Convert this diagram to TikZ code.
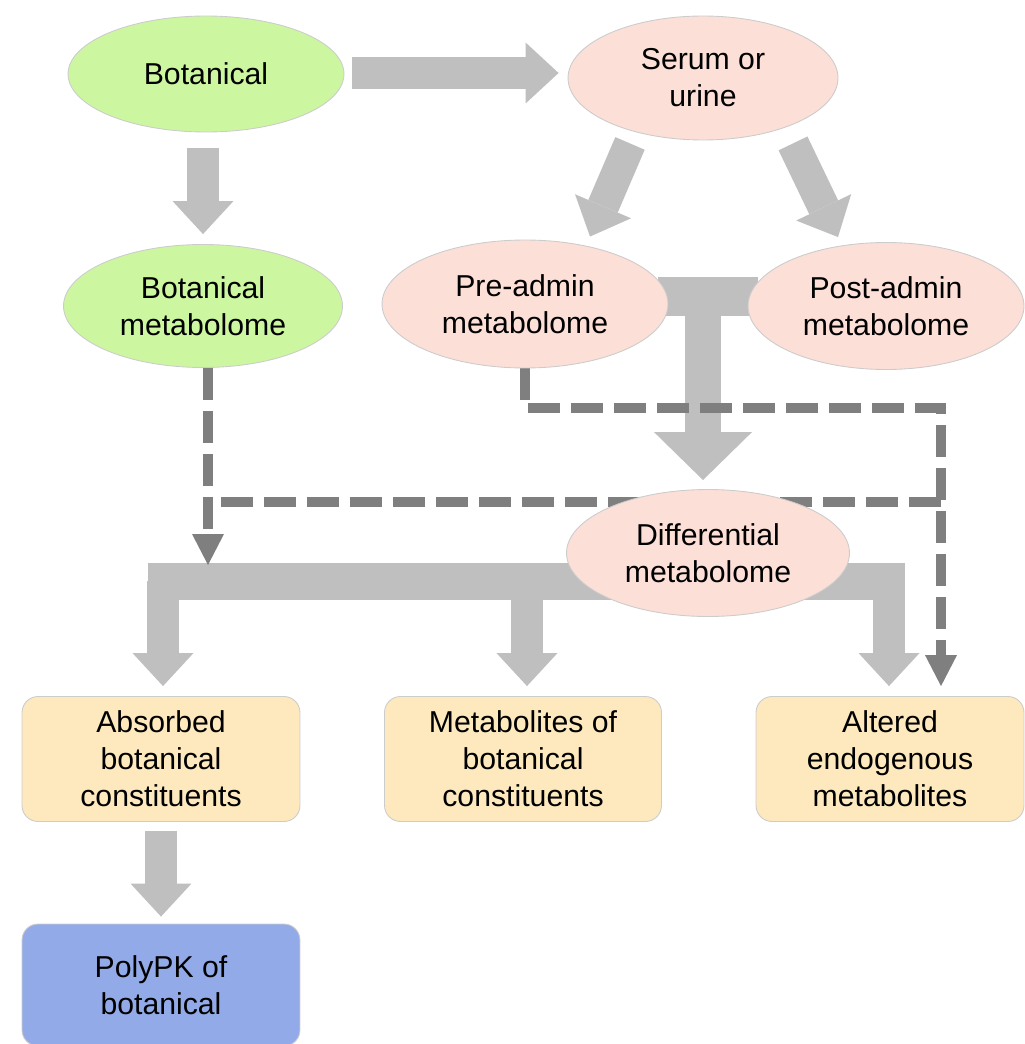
\documentclass[tikz,border=0pt]{standalone}
\usepackage{fontspec}
\setmainfont{Liberation Sans}
\usetikzlibrary{calc, positioning, shapes.geometric, arrows.meta, backgrounds}

\definecolor{botgreen}{HTML}{CCF7A0}
\definecolor{serumpink}{HTML}{FCDFD7}
\definecolor{outyellow}{HTML}{FDE9BD}
\definecolor{pkblue}{HTML}{93AAE8}
\definecolor{arrowgray}{HTML}{BFBFBF}
\definecolor{dashgray}{HTML}{7F7F7F}

\begin{document}
\begin{tikzpicture}[x=0.02cm, y=-0.02cm,
    every node/.style={font=\fontsize{17.2}{21}\selectfont, align=center, inner sep=0pt},
    blob/.style={ellipse, draw=black!20, line width=0.5pt},
    outbox/.style={rectangle, rounded corners=0.32cm, draw=black!20, line width=0.5pt,
        fill=outyellow, minimum width=5.56cm, minimum height=2.5cm},
    fat/.style={draw=arrowgray, line width=0.64cm,
        -{Triangle[width=1.22cm, length=0.66cm, line width=0pt]}},
    fatbig/.style={draw=arrowgray, line width=0.72cm,
        -{Triangle[width=1.96cm, length=0.96cm, line width=0pt]}},
    dashline/.style={draw=dashgray, line width=0.2cm, dash pattern=on 0.64cm off 0.22cm},
    dashtip/.style={-{Triangle[width=0.64cm, length=0.62cm, line width=0pt]}}]

    \useasboundingbox (0,0) rectangle (1024,1044);

    % Sample nodes
    \node[blob, fill=botgreen, minimum width=5.52cm, minimum height=2.32cm] (bot) at (206,74) {Botanical};
    \node[blob, fill=serumpink, minimum width=5.4cm, minimum height=2.48cm] (serum) at (703,78) {Serum or\\urine};

    % Metabolomes
    \node[blob, fill=botgreen, minimum width=5.58cm, minimum height=2.46cm] (botmet) at (203,306) {Botanical\\metabolome};
    \node[blob, fill=serumpink, minimum width=5.72cm, minimum height=2.56cm] (pre) at (525,304) {Pre-admin\\metabolome};
    \node[blob, fill=serumpink, minimum width=5.52cm, minimum height=2.54cm] (post) at (886,306) {Post-admin\\metabolome};
    \node[blob, fill=serumpink, minimum width=5.66cm, minimum height=2.54cm] (diff) at (708,553) {Differential\\metabolome};

    % Outcomes
    \node[outbox] (absorbed) at (161,759) {Absorbed\\botanical\\constituents};
    \node[outbox, minimum width=5.54cm] (metab) at (523,759) {Metabolites of\\botanical\\constituents};
    \node[outbox, minimum width=5.36cm] (altered) at (890,759) {Altered\\endogenous\\metabolites};
    \node[outbox, fill=pkblue, minimum height=2.44cm] (polypk) at (161,985) {PolyPK of\\botanical};

    \begin{pgfonlayer}{background}
        % Block arrows
        \draw[fat] ($(bot.east)+(8,-1)$) -- ($(bot.east -| serum.west)+(-9,-1)$);
        \draw[fat] ($(bot.south)+(-3,16)$) -- ($(botmet.north)+(0,-10)$);
        \draw[fat] ($(serum.south)+(-73,3)$) -- ($(pre.north)+(65,-3)$);
        \draw[fat] ($(serum.south)+(90,3)$) -- ($(post.north)+(-48,-5)$);

        % Upper bracket
        \fill[arrowgray] ($(pre.east)+(-10,-27)$) rectangle ($(post.west)+(10,10)$);
        \draw[fatbig] ($(diff.north)+(-5,-190)$) -- ($(diff.north)+(-5,-9)$);

        % Lower bracket
        \fill[arrowgray] (148,563) rectangle (905,600);
        \draw[fat] ($(absorbed.north)+(2,-115)$) -- ($(absorbed.north)+(2,-10)$);
        \draw[fat] ($(metab.north)+(4,-115)$) -- ($(metab.north)+(4,-10)$);
        \draw[fat] ($(altered.north)+(-1,-115)$) -- ($(altered.north)+(-1,-10)$);
        \draw[fat] ($(absorbed.south)+(0,9)$) -- ($(polypk.north)+(0,-7)$);

        % Dashed connectors
        \coordinate (dL) at (208,565);
        \coordinate (dR) at (941,408);
        \coordinate (dM) at (941,502);
        \draw[dashline, dashtip] (botmet.south -| dL) -- (dL);
        \draw[dashline, dashtip, shorten >=0.2cm] (pre.south) |- (dR) -- (dR |- altered.north);
        \draw[dashline] (dM) -- (dM -| dL);
    \end{pgfonlayer}
\end{tikzpicture}
\end{document}
